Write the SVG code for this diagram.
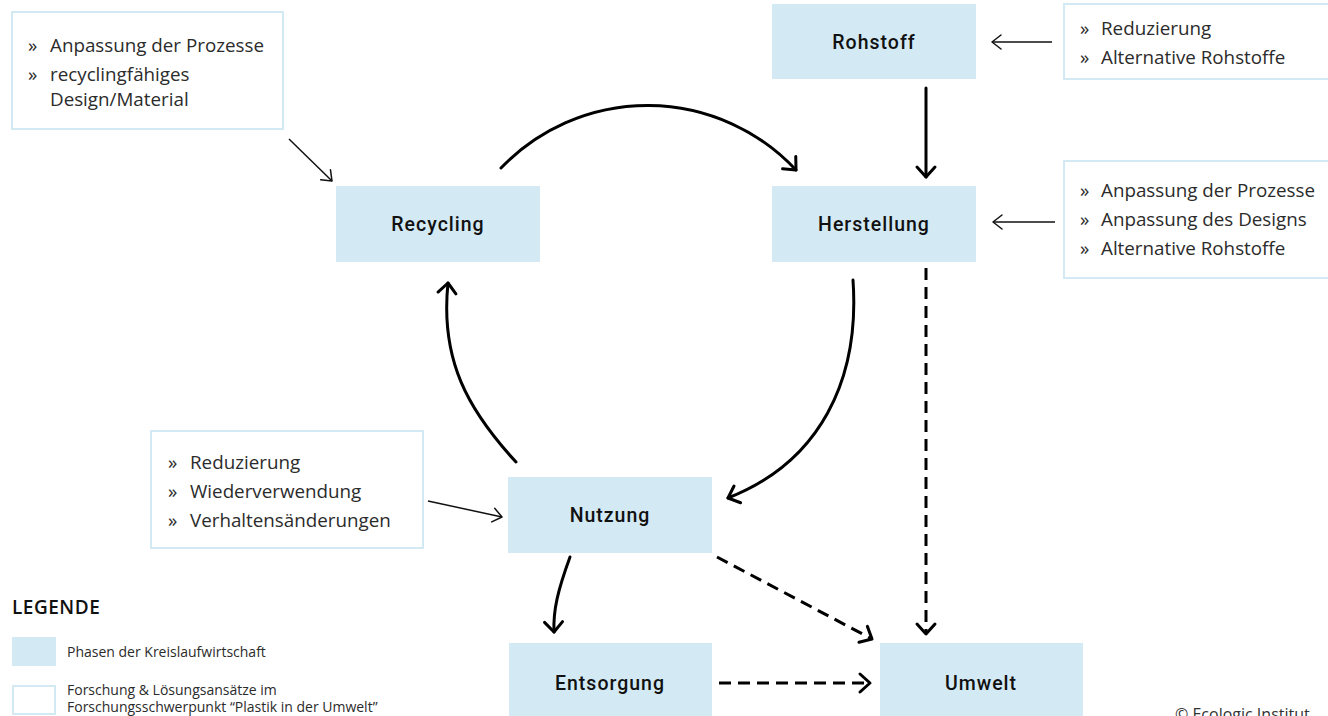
<svg xmlns="http://www.w3.org/2000/svg" width="1328" height="716" viewBox="0 0 1328 716">
<style>
.node{fill:#d3eaf5}
.nl{font-family:Roboto,"Noto Sans",sans-serif;font-weight:500;font-size:19.5px;letter-spacing:1px;fill:#111;text-anchor:middle}
.tb{fill:#fff;stroke:#d3eaf5;stroke-width:2}
.t{font-family:"Open Sans","Noto Sans",sans-serif;font-size:18.8px;fill:#2b2b2b}
.lg{font-family:"Open Sans","Noto Sans",sans-serif;font-size:14px;fill:#2b2b2b}
.thick{fill:none;stroke:#000;stroke-width:3;stroke-linecap:round}
.dash{fill:none;stroke:#000;stroke-width:3;stroke-dasharray:12 7}
.thin{fill:none;stroke:#111;stroke-width:1.5}
</style>
<defs>
<marker id="ah" viewBox="-14 -10 16 20" refX="0" refY="0" markerWidth="16" markerHeight="20" markerUnits="userSpaceOnUse" orient="auto" overflow="visible">
<path d="M-10,-9 L0,0 L-10,9" fill="none" stroke="#000" stroke-width="3" stroke-linecap="round" stroke-linejoin="round"/>
</marker>
<marker id="ahs" viewBox="-12 -8 14 16" refX="0" refY="0" markerWidth="14" markerHeight="16" markerUnits="userSpaceOnUse" orient="auto" overflow="visible">
<path d="M-9,-7 L0,0 L-9,7" fill="none" stroke="#111" stroke-width="1.5" stroke-linecap="round" stroke-linejoin="round"/>
</marker>
</defs>
<rect width="1328" height="716" fill="#fff"/>

<g id="connectors">
<line class="thick" x1="926" y1="88" x2="926" y2="177" marker-end="url(#ah)"/>
<path class="thick" d="M501,168 A203,203 0 0 1 796,170" marker-end="url(#ah)"/>
<path class="thick" d="M853,280 C860,380 820,462 728,498" marker-end="url(#ah)"/>
<path class="thick" d="M516,462 C468,410 440,360 448,283" marker-end="url(#ah)"/>
<path class="thick" d="M570,557 C558,590 553,610 554,632" marker-end="url(#ah)"/>
<line class="dash" x1="717" y1="557" x2="872" y2="639" marker-end="url(#ah)"/>
<line class="dash" x1="926" y1="268" x2="926" y2="634" marker-end="url(#ah)"/>
<line class="dash" x1="719" y1="683" x2="870" y2="683" marker-end="url(#ah)"/>
<line class="thin" x1="1052" y1="42" x2="992" y2="42" marker-end="url(#ahs)"/>
<line class="thin" x1="1055" y1="222" x2="993" y2="222" marker-end="url(#ahs)"/>
<line class="thin" x1="289" y1="139" x2="332" y2="181" marker-end="url(#ahs)"/>
<line class="thin" x1="428" y1="501" x2="502" y2="517" marker-end="url(#ahs)"/>
</g>

<g id="rohstoff"><rect class="node" x="772" y="4" width="204" height="75"/><text class="nl" x="874" y="49">Rohstoff</text></g>
<g id="herstellung"><rect class="node" x="772" y="186" width="204" height="76"/><text class="nl" x="874" y="231">Herstellung</text></g>
<g id="recycling"><rect class="node" x="336" y="186" width="204" height="76"/><text class="nl" x="438" y="231">Recycling</text></g>
<g id="nutzung"><rect class="node" x="508" y="477" width="204" height="76"/><text class="nl" x="610" y="522">Nutzung</text></g>
<g id="entsorgung"><rect class="node" x="509" y="643" width="203" height="80"/><text class="nl" x="610" y="690">Entsorgung</text></g>
<g id="umwelt"><rect class="node" x="880" y="643" width="203" height="80"/><text class="nl" x="981" y="690">Umwelt</text></g>

<g id="box-recycling">
<rect class="tb" x="12" y="12" width="271" height="117"/>
<text class="t" x="28" y="52">»</text><text class="t" x="50" y="52">Anpassung der Prozesse</text>
<text class="t" x="28" y="81">»</text><text class="t" x="50" y="81">recyclingfähiges</text>
<text class="t" x="50" y="106">Design/Material</text>
</g>
<g id="box-rohstoff">
<rect class="tb" x="1064" y="4" width="280" height="75"/>
<text class="t" x="1080" y="35">»</text><text class="t" x="1101" y="35">Reduzierung</text>
<text class="t" x="1080" y="64">»</text><text class="t" x="1101" y="64">Alternative Rohstoffe</text>
</g>
<g id="box-herstellung">
<rect class="tb" x="1064" y="161" width="280" height="117"/>
<text class="t" x="1080" y="197">»</text><text class="t" x="1101" y="197">Anpassung der Prozesse</text>
<text class="t" x="1080" y="226">»</text><text class="t" x="1101" y="226">Anpassung des Designs</text>
<text class="t" x="1080" y="255">»</text><text class="t" x="1101" y="255">Alternative Rohstoffe</text>
</g>
<g id="box-nutzung">
<rect class="tb" x="151" y="431" width="272" height="117"/>
<text class="t" x="168" y="469">»</text><text class="t" x="190" y="469">Reduzierung</text>
<text class="t" x="168" y="498">»</text><text class="t" x="190" y="498">Wiederverwendung</text>
<text class="t" x="168" y="527">»</text><text class="t" x="190" y="527">Verhaltensänderungen</text>
</g>

<g id="legend">
<text x="12" y="614" font-family="Open Sans, Noto Sans, sans-serif" font-size="19" font-weight="600" letter-spacing="0.5" fill="#111">LEGENDE</text>
<rect class="node" x="12" y="637" width="44" height="29"/>
<text class="lg" x="67" y="657">Phasen der Kreislaufwirtschaft</text>
<rect x="13" y="686" width="42" height="28" fill="#fff" stroke="#d3eaf5" stroke-width="2"/>
<text class="lg" x="67" y="695">Forschung &amp; Lösungsansätze im</text>
<text class="lg" x="67" y="712">Forschungsschwerpunkt “Plastik in der Umwelt”</text>
</g>
<text x="1175" y="720" font-family="Open Sans, Noto Sans, sans-serif" font-size="16" fill="#333">© Ecologic Institut</text>
</svg>
